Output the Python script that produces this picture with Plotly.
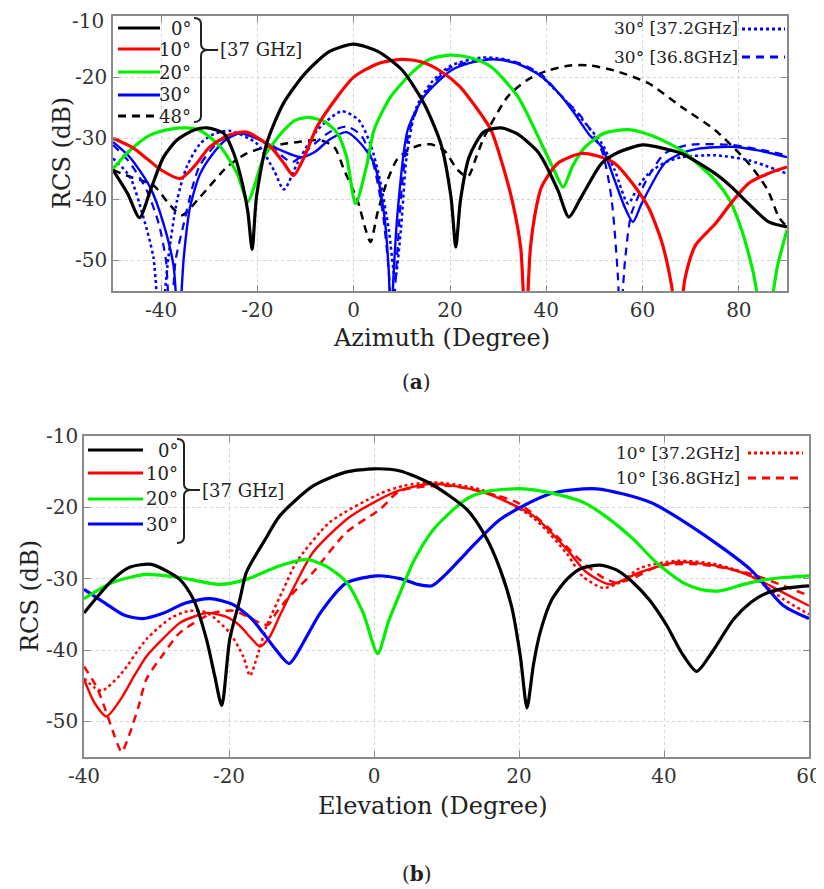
import plotly.graph_objects as go

# page body adds an 8px offset; figure is sized/positioned so the screen matches the 824x889 reference
OFF = 8
W, H = 824 - OFF, 889 - OFF
FONT = "DejaVu Serif"

# ---------------- (a) Azimuth cut ----------------
az0_x = [-50, -47, -44.5, -42, -39.5, -36.7, -33, -30.5, -27, -24.9, -23.1, -22, -21.1, -20.2, -18.1, -14.6, -10, -5, 0,
         5, 10, 14.6, 18.1, 20.2, 21.2, 22.2, 24, 27, 30.6, 34, 38, 39, 42.4, 44.7, 47.3, 51.5, 55, 60.1, 65, 68.1,
         75.1, 78.5, 82, 86.2, 90]
az0_y = [-35.2, -39.0, -43.0, -38.0, -33.1, -30.3, -28.6, -28.3, -29.2, -32.5, -37.5, -42.0, -48.2, -39.6, -30.9, -24.3,
         -19.3, -15.8, -14.6, -15.8, -18.8, -24.3, -30.9, -39.6, -47.8, -40.0, -33.0, -29.0, -28.3, -29.3, -32.0,
         -33.1, -38.5, -42.9, -39.6, -34.1, -32.3, -31.1, -31.8, -32.5, -35.8, -38.0, -40.7, -43.7, -44.5]

az10_x = [-50, -46, -43, -40, -36, -33, -30, -26, -22.3, -17.3, -14.5, -12.5, -10.3, -7.6, -3.4, 0, 5, 9.8, 14, 18,
          22, 25, 28.5, 30.6, 33, 34.7, 35.7, 36.7, 38, 39, 42.4, 47.3, 51, 54.2, 58, 61.2, 64, 66, 67.4, 68.8, 71,
          75.1, 78.5, 82, 86, 90]
az10_y = [-30.0, -31.5, -33.3, -35.2, -36.6, -34.5, -31.5, -29.5, -29.0, -31.4, -34.1, -36.1, -33.1, -28.1, -23.2,
          -20.0, -17.8, -17.1, -17.5, -19.0, -21.5, -24.5, -28.6, -33.5, -40.5, -48.0, -62.0, -48.0, -41.0, -38.0,
          -34.1, -32.5, -33.0, -34.1, -37.5, -41.3, -47.0, -54.0, -62.0, -53.0, -47.5, -44.0, -40.5, -37.4, -35.8,
          -34.7]

az20_x = [-50, -46.5, -42.3, -38, -35, -32, -27.7, -24.2, -22, -20.3, -18.7, -14.5, -12, -9.3, -6, -3.4, -1.5, 0.4,
          2.8, 4.2, 7.7, 12.6, 16, 20.2, 24, 28.5, 34.1, 39, 41.5, 43.5, 45.5, 48, 52, 57, 62, 68.1, 75.1, 78, 80.6,
          83, 85.5, 88, 90]
az20_y = [-35.0, -32.0, -29.5, -28.5, -28.3, -28.7, -31.4, -35.8, -40.4, -37.0, -33.1, -28.7, -27.0, -26.6, -27.3,
          -29.2, -33.0, -40.7, -34.1, -28.7, -23.2, -18.9, -17.0, -16.4, -16.8, -18.3, -23.2, -30.9, -35.0, -38.0,
          -34.5, -31.5, -29.2, -28.6, -29.6, -32.0, -36.9, -40.0, -45.1, -52.0, -62.0, -51.0, -45.0]

az30_x = [-50, -46.5, -42.3, -39.5, -37.4, -36.4, -35.3, -34, -32, -29.8, -26.5, -23.5, -19.4, -15.9, -11, -8, -5,
          -1.5, 1.5, 4.2, 6.3, 7.3, 7.7, 8.3, 9.1, 11.2, 14.6, 20.2, 24, 29.2, 34, 39, 43, 45.9, 49, 51.5, 54.2, 56.3,
          58, 59.8, 64.6, 68, 71.6, 78.5, 84, 90]
az30_y = [-30.6, -33.1, -38.0, -44.0, -51.0, -62.0, -49.5, -41.3, -36.0, -33.1, -30.2, -29.2, -30.3, -31.7, -33.1,
          -32.2, -30.2, -29.0, -30.9, -34.1, -42.3, -52.0, -62.0, -52.0, -42.3, -28.7, -23.2, -18.9, -17.7, -17.1,
          -17.8, -19.9, -23.0, -26.0, -29.5, -31.4, -36.9, -41.3, -43.7, -40.7, -34.1, -32.5, -31.7, -31.4, -32.0,
          -33.1]

az30_372_x = [-50, -46.5, -43.7, -41.6, -40.2, -38.5, -36.7, -34.7, -31.9, -29, -25.6, -20.1, -16.6, -14.5, -11.7,
              -7.6, -2.5, 1, 3.5, 5.5, 7.3, 8.6, 9.8, 11, 13, 16, 20, 26.5, 32, 38, 43, 48.7, 51.5, 54.2, 57, 59,
              61.2, 64.6, 68.1, 75.1, 82, 90]
az30_372_y = [-33.3, -36.3, -42.9, -49.5, -62.0, -49.5, -40.2, -34.7, -30.9, -29.3, -28.8, -30.9, -35.2, -38.4,
              -34.1, -28.7, -25.6, -27.0, -31.0, -37.0, -45.0, -53.0, -45.0, -33.0, -25.0, -21.0, -18.2, -16.8, -17.2,
              -19.3, -23.0, -28.1, -30.8, -35.2, -40.7, -38.0, -35.8, -34.0, -33.1, -32.8, -33.6, -35.8]

az30_368_x = [-50, -46.5, -43, -40.5, -39, -38.1, -37, -35.3, -33.5, -32, -28, -24.2, -20, -16, -12.8, -9, -5, -1.5,
              1.5, 4, 6, 7.3, 8, 8.8, 10, 11.5, 14.6, 20, 28, 34, 39, 43, 47.3, 51.5, 53.5, 54.9, 55.3, 56.3, 57.7,
              61.2, 64.6, 69.5, 78.5, 84, 90]
az30_368_y = [-31.1, -34.0, -38.5, -44.0, -50.0, -62.0, -50.0, -44.0, -38.0, -34.5, -30.5, -29.2, -30.0, -32.2,
              -33.9, -31.5, -29.0, -28.1, -29.5, -34.0, -42.0, -52.0, -62.0, -52.0, -38.0, -29.0, -23.0, -18.5, -17.0,
              -17.6, -19.6, -23.0, -26.5, -32.0, -39.6, -53.0, -62.0, -50.5, -42.3, -36.3, -32.5, -31.1, -31.1, -31.8,
              -32.8]

az48_x = [-50, -46.5, -41.6, -38.1, -35.7, -31.9, -26.3, -22.5, -19.4, -15, -11.5, -7, -4, -2, 0.8, 2.5, 3.5, 5, 7,
          9, 11.2, 13.5, 16, 18.8, 21.6, 23.7, 25.5, 27.1, 32, 36, 40, 45, 49, 54, 61.2, 68.1, 75.1, 82, 86, 88.3, 90]
az48_y = [-35.2, -36.3, -37.7, -41.0, -42.6, -39.6, -34.7, -32.6, -31.7, -31.0, -30.6, -30.3, -31.5, -35.2, -40.2,
          -45.0, -47.0, -42.0, -36.9, -33.5, -32.0, -31.2, -31.0, -32.0, -35.2, -36.3, -33.0, -29.8, -23.2, -20.5,
          -19.0, -18.1, -18.1, -18.9, -21.0, -24.9, -28.7, -34.1, -38.5, -42.9, -44.5]

# ---------------- (b) Elevation cut ----------------
el0_x = [-40, -36, -33.7, -30.7, -26.8, -24.9, -23.1, -22, -21.0, -19.9, -18.5, -17.6, -15, -13, -8.4, -4, 0, 3.6,
         8, 12.8, 15.5, 17.4, 19, 20.2, 21.1, 22, 22.9, 24.5, 26.6, 28.5, 31.2, 33.5, 35.8, 38, 40.4, 42.5, 44.5,
         46.5, 49.6, 52, 54.2, 57, 60]
el0_y = [-34.8, -30.1, -28.4, -28.0, -30.1, -32.9, -38.5, -43.5, -47.8, -38.5, -32.9, -29.1, -24.5, -21.2, -17.0,
         -15.1, -14.6, -14.9, -16.8, -20.3, -24.3, -28.7, -34.0, -41.0, -48.1, -42.0, -37.6, -33.0, -30.1, -28.6,
         -28.1, -28.8, -30.6, -33.0, -36.6, -40.5, -43.0, -40.5, -35.7, -33.3, -32.0, -31.3, -31.0]

el10_x = [-40, -38.5, -36.9, -35, -33, -31.4, -29, -26.8, -24.5, -22.9, -20.5, -18.5, -17, -15.7, -14.3, -13, -10.7,
          -8.4, -3.8, 0, 3.6, 8.2, 15.1, 22, 26.6, 29.3, 32.6, 36.7, 41.8, 47.3, 51.9, 56.5, 60]
el10_y = [-44.1, -47.5, -49.3, -47.0, -43.5, -40.9, -38.3, -36.2, -35.2, -34.8, -35.3, -36.6, -38.3, -39.5, -38.0,
          -35.2, -30.5, -26.3, -21.7, -19.3, -17.6, -16.7, -17.9, -21.2, -25.9, -29.1, -30.8, -29.1, -27.7, -28.2,
          -29.6, -32.0, -33.8]

el20_x = [-40, -36, -31.4, -27, -21.2, -17.6, -13, -9.3, -6.5, -3.8, -1.5, 0.5, 2, 3.6, 5.5, 8.2, 12.8, 16, 20.6,
          24.5, 28.9, 32, 35.8, 39, 42.7, 45, 47.7, 51, 54.2, 57, 60]
el20_y = [-32.8, -30.5, -29.4, -29.8, -30.8, -30.1, -28.2, -27.3, -28.3, -30.5, -34.8, -40.5, -36.0, -32.0, -27.5,
          -23.1, -18.8, -17.7, -17.4, -18.0, -19.3, -21.3, -24.5, -27.8, -30.6, -31.5, -31.7, -30.8, -30.1, -29.8,
          -29.6]

el30_x = [-40, -37, -34.5, -32, -29, -26, -22.6, -19.5, -17, -15.3, -13.5, -11.7, -9.5, -7.4, -3.8, 0.4, 3.6, 6, 8,
          10, 12.8, 17.4, 24.3, 30.7, 38.1, 45, 51.9, 56.5, 60]
el30_y = [-31.5, -33.5, -35.1, -35.6, -34.8, -33.4, -32.8, -33.6, -35.5, -37.6, -40.0, -41.9, -38.5, -34.8, -30.6,
          -29.6, -30.0, -30.8, -31.0, -29.3, -26.3, -21.7, -18.1, -17.4, -19.3, -23.5, -28.7, -33.8, -35.6]

el10_372_x = [-40, -38.5, -37.5, -35, -31.4, -28, -25.4, -23, -19.9, -18, -17.1, -16, -14.8, -12.5, -10.7, -6.1, 0.8,
              4, 8.2, 15, 22, 26.6, 28.7, 31.6, 34, 36.7, 41.8, 47.3, 51.9, 56.5, 60]
el10_372_y = [-44.0, -45.3, -45.7, -43.5, -38.5, -35.5, -34.5, -34.8, -37.6, -41.0, -43.6, -40.5, -36.6, -31.5,
              -27.7, -22.1, -18.1, -17.0, -16.5, -17.6, -21.5, -26.5, -29.6, -31.3, -30.5, -28.5, -27.5, -28.0, -29.6,
              -32.9, -35.0]

el10_368_x = [-40, -38.2, -37, -35.8, -34.8, -33.8, -32.5, -31.4, -29, -26.8, -22.2, -19.4, -17.5, -15.3, -14.5,
              -13.5, -12, -8.4, -3.8, 0.8, 3.6, 10.5, 19.7, 24.3, 28, 31.2, 33.5, 36, 39.4, 45, 51.9, 56.5, 60]
el10_368_y = [-42.3, -45.3, -48.5, -52.0, -54.3, -52.0, -48.0, -44.1, -40.5, -37.6, -34.8, -34.5, -35.3, -36.4,
              -36.4, -34.8, -32.9, -29.1, -23.5, -20.3, -17.7, -17.0, -19.3, -23.1, -27.0, -29.6, -30.6, -29.8, -28.2,
              -28.0, -29.3, -31.0, -32.4]

az_ticks = [-40, -20, 0, 20, 40, 60, 80]
el_ticks = [-40, -20, 0, 20, 40, 60]
rcs_ticks = [-10, -20, -30, -40, -50]

BLACK, RED, GREEN, BLUE = "#000000", "#ff0000", "#00f000", "#0000ff"

fig = go.Figure()


def add(x, y, color, dash, width, xa, ya):
    fig.add_trace(go.Scatter(
        x=x, y=y, mode="lines", xaxis=xa, yaxis=ya, hoverinfo="skip", showlegend=False,
        line=dict(color=color, dash=dash, width=width, shape="spline", smoothing=0.7)))


# (a)
add(az48_x, az48_y, BLACK, "8px,6px", 2.5, "x", "y")
add(az30_372_x, az30_372_y, BLUE, "dot", 2.5, "x", "y")
add(az30_368_x, az30_368_y, BLUE, "8px,6px", 2.2, "x", "y")
add(az30_x, az30_y, BLUE, "solid", 2.4, "x", "y")
add(az20_x, az20_y, GREEN, "solid", 3.2, "x", "y")
add(az10_x, az10_y, RED, "solid", 3.2, "x", "y")
add(az0_x, az0_y, BLACK, "solid", 3.2, "x", "y")
# (b)
add(el10_372_x, el10_372_y, RED, "dot", 2.5, "x2", "y2")
add(el10_368_x, el10_368_y, RED, "8px,6px", 2.5, "x2", "y2")
add(el10_x, el10_y, RED, "solid", 2.4, "x2", "y2")
add(el30_x, el30_y, BLUE, "solid", 3.2, "x2", "y2")
add(el20_x, el20_y, GREEN, "solid", 3.2, "x2", "y2")
add(el0_x, el0_y, BLACK, "solid", 3.2, "x2", "y2")


def px(x):
    return (x - OFF) / W


def py(y):
    return 1 - (y - OFF) / H


def labels(vals):
    return [str(v) for v in vals]


AXC = "#8a8a8a"
TICKFONT = dict(family=FONT, size=20, color="#333333")
common = dict(showline=True, linecolor=AXC, linewidth=1.5, mirror="ticks", ticks="inside", ticklen=6,
              tickcolor=AXC, tickwidth=1.2, showgrid=True, gridcolor="#d4d4d4", griddash="dot", gridwidth=1,
              zeroline=False, automargin=False, ticklabeloverflow="allow", tickfont=TICKFONT)

# top-most label of panel (a) sits a little below its tick (as in the reference), drawn separately
top_labels = [("" if v == rcs_ticks[0] else str(v)) for v in rcs_ticks]

fig.update_layout(
    width=W, height=H, margin=dict(l=0, r=0, t=0, b=0, autoexpand=False),
    paper_bgcolor="white", plot_bgcolor="white", showlegend=False,
    font=dict(family=FONT, color="#222222"),
    xaxis=dict(domain=[px(113), px(787)], range=[-50, 90], tickvals=az_ticks, ticktext=labels(az_ticks),
               anchor="y", **common),
    yaxis=dict(domain=[py(291), py(16)], range=[-55, -10], tickvals=rcs_ticks, ticktext=top_labels,
               anchor="x", **common),
    xaxis2=dict(domain=[px(84), px(809)], range=[-40, 60], tickvals=el_ticks, ticktext=labels(el_ticks),
                anchor="y2", **common),
    yaxis2=dict(domain=[py(757), py(436)], range=[-55, -10], tickvals=rcs_ticks, ticktext=labels(rcs_ticks),
                anchor="x2", **common),
)

ann = []


def text(t, x, y, size, xanchor="center", angle=0, color="#222222"):
    ann.append(dict(text=t, x=px(x), y=py(y), xref="paper", yref="paper", showarrow=False, xanchor=xanchor,
                    yanchor="middle", textangle=angle, font=dict(family=FONT, size=size, color=color)))


shapes = []


def seg(x0, y0, x1, y1, color, dash, width):
    shapes.append(dict(type="line", xref="paper", yref="paper", x0=px(x0), y0=py(y0), x1=px(x1), y1=py(y1),
                       line=dict(color=color, dash=dash, width=width)))


def brace(xl, xr, ytop, ymid, ybot, tipx, linex):
    r = 6
    pts = (f"M {px(xl)},{py(ytop)} Q {px(xr)},{py(ytop)} {px(xr)},{py(ytop + r)} "
           f"L {px(xr)},{py(ymid - r)} Q {px(xr)},{py(ymid)} {px(tipx)},{py(ymid)} "
           f"Q {px(xr)},{py(ymid)} {px(xr)},{py(ymid + r)} "
           f"L {px(xr)},{py(ybot - r)} Q {px(xr)},{py(ybot)} {px(xl)},{py(ybot)} "
           f"M {px(tipx)},{py(ymid)} L {px(linex)},{py(ymid)}")
    shapes.append(dict(type="path", xref="paper", yref="paper", path=pts, line=dict(color="#222222", width=2)))


# top tick label of panel (a)
text(str(rcs_ticks[0]), 106, 21, 20, xanchor="right", color="#333333")

# axis titles / captions
text("RCS (dB)", 62, 153, 24, angle=-90)
text("Azimuth (Degree)", 441, 338, 24)
text("(<b>a</b>)", 416, 382, 20)
text("RCS (dB)", 30, 596, 24, angle=-90)
text("Elevation (Degree)", 433, 806, 24)
text("(<b>b</b>)", 417, 874, 20)

# legend (a)
leg_a = [("0°", BLACK, "solid", 28), ("10°", RED, "solid", 49), ("20°", GREEN, "solid", 72),
         ("30°", BLUE, "solid", 95), ("48°", BLACK, "8px,6px", 116)]
for lab, c, d, yy in leg_a:
    seg(118, yy, 160, yy, c, d, 3)
    text(lab, 193, yy, 18, xanchor="right")
brace(194, 201, 18, 50, 122, 208, 218)
text("[37 GHz]", 218, 49, 18, xanchor="left")
seg(742, 29, 785, 29, BLUE, "dot", 3)
text("30° [37.2GHz]", 740, 28, 17, xanchor="right")
seg(742, 57, 785, 57, BLUE, "8px,6px", 3)
text("30° [36.8GHz]", 740, 57, 17, xanchor="right")

# legend (b)
leg_b = [("0°", BLACK, "solid", 450), ("10°", RED, "solid", 473), ("20°", GREEN, "solid", 499),
         ("30°", BLUE, "solid", 524)]
for lab, c, d, yy in leg_b:
    seg(88, yy, 143, yy, c, d, 3)
    text(lab, 180, yy, 18, xanchor="right")
brace(177, 184, 439, 490, 543, 191, 200)
text("[37 GHz]", 200, 490, 18, xanchor="left")
seg(748, 453, 803, 453, RED, "dot", 3)
text("10° [37.2GHz]", 742, 453, 17, xanchor="right")
seg(748, 478, 803, 478, RED, "8px,6px", 3)
text("10° [36.8GHz]", 742, 478, 17, xanchor="right")

fig.update_layout(annotations=ann, shapes=shapes)
fig.write_html("out.html")
